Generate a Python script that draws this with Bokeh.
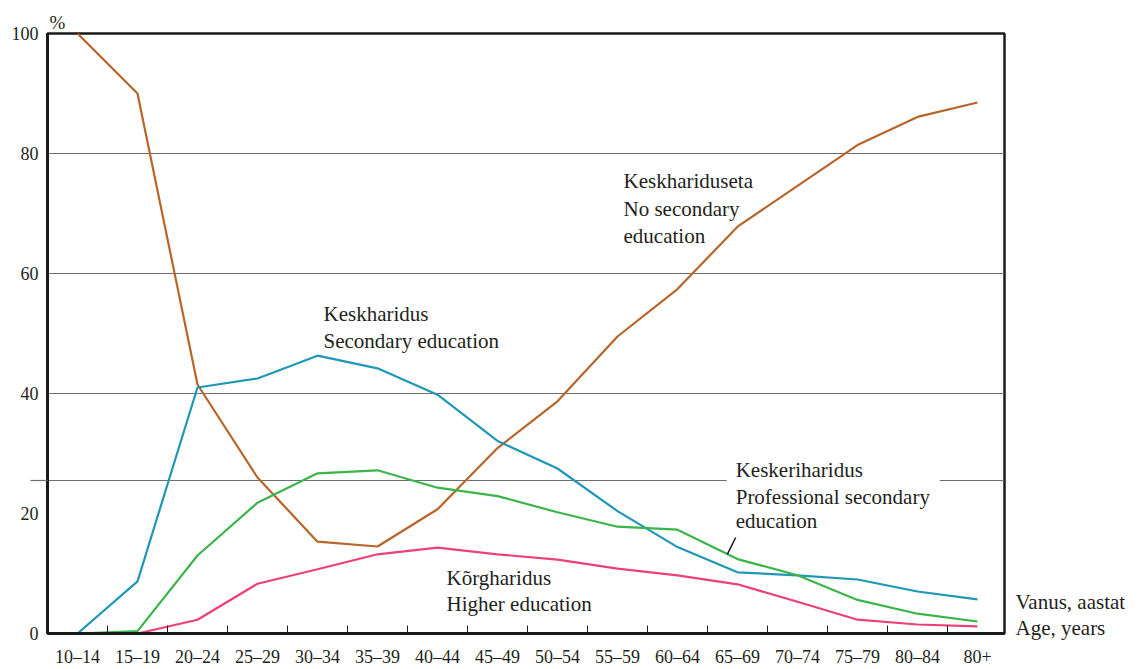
from bokeh.plotting import figure
from bokeh.models import Range1d, FixedTicker, Label, LinearAxis
from bokeh.embed import file_html
from bokeh.resources import INLINE

age_groups = ["10–14", "15–19", "20–24", "25–29", "30–34", "35–39", "40–44", "45–49",
              "50–54", "55–59", "60–64", "65–69", "70–74", "75–79", "80–84", "80+"]
no_secondary = [100, 90, 41.5, 26, 15.3, 14.5, 20.7, 30.9, 38.7, 49.5, 57.4, 67.8, 74.6, 81.4, 86.1, 88.5]
secondary = [0, 8.7, 41.0, 42.5, 46.3, 44.2, 39.8, 32.1, 27.5, 20.4, 14.4, 10.2, 9.7, 9.0, 7.0, 5.7]
professional = [0, 0.4, 13.0, 21.8, 26.7, 27.2, 24.3, 22.9, 20.2, 17.8, 17.3, 12.4, 9.7, 5.6, 3.3, 2.0]
higher = [0, 0, 2.3, 8.3, 10.7, 13.2, 14.3, 13.2, 12.3, 10.8, 9.7, 8.2, 5.3, 2.3, 1.5, 1.2]
y_ticks = [0, 20, 40, 60, 80, 100]
grid_levels = [40, 60, 80]
odd_line_level = 25.5
axis_title_lines = {5.2: "Vanus, aastat", 1.0: "Age, years"}

SERIF = "Liberation Serif"
TXT = "#231F20"
GRID = "#6D6E71"
INK = "#1a1a1a"

xs = list(range(len(age_groups)))

p = figure(width=1135, height=669, output_backend="svg", toolbar_location=None,
           title="%",
           x_range=Range1d(-0.5, 15.45), y_range=Range1d(0, 100),
           min_border_left=47, min_border_right=131, min_border_top=33, min_border_bottom=36)
p.background_fill_color = "white"
p.border_fill_color = "white"
p.outline_line_color = INK
p.outline_line_width = 2.5

p.title.align = "left"
p.title.offset = 2
p.title.standoff = 2
p.title.text_font = SERIF
p.title.text_font_size = "19px"
p.title.text_font_style = "normal"
p.title.text_color = TXT

p.xaxis.ticker = FixedTicker(ticks=xs, minor_ticks=[i + 0.5 for i in range(len(xs) - 1)])
p.xaxis.major_label_overrides = {i: lab for i, lab in enumerate(age_groups)}
p.xaxis.major_tick_line_color = None
p.xaxis.minor_tick_in = 8
p.xaxis.minor_tick_out = 0
p.xaxis.minor_tick_line_color = INK
p.xaxis.minor_tick_line_width = 1
p.xaxis.axis_line_width = 3
p.xaxis.axis_line_color = INK
p.xaxis.major_label_text_font = SERIF
p.xaxis.major_label_text_font_size = "18px"
p.xaxis.major_label_text_color = TXT
p.xaxis.major_label_standoff = 7

p.yaxis.ticker = FixedTicker(ticks=y_ticks, minor_ticks=[odd_line_level])
p.yaxis.major_tick_line_color = None
p.yaxis.minor_tick_in = 0
p.yaxis.minor_tick_out = 17
p.yaxis.minor_tick_line_color = GRID
p.yaxis.minor_tick_line_width = 1.2
p.yaxis.axis_line_width = 3
p.yaxis.axis_line_color = INK
p.yaxis.major_label_text_font = SERIF
p.yaxis.major_label_text_font_size = "18px"
p.yaxis.major_label_text_color = TXT
p.yaxis.major_label_standoff = -8

right = LinearAxis(ticker=FixedTicker(ticks=list(axis_title_lines.keys())),
                   major_label_overrides=axis_title_lines,
                   axis_line_color=None, major_tick_line_color=None, minor_tick_line_color=None,
                   major_label_standoff=5, major_label_text_font=SERIF,
                   major_label_text_font_size="21px", major_label_text_color=TXT)
p.add_layout(right, "right")

p.xgrid.grid_line_color = None
p.ygrid.ticker = FixedTicker(ticks=grid_levels)
p.ygrid.grid_line_color = GRID
p.ygrid.grid_line_width = 1.2

p.segment(x0=[-0.5, 14.37], y0=[odd_line_level] * 2, x1=[10.82, 15.45], y1=[odd_line_level] * 2,
          line_color=GRID, line_width=1.2)

p.line(xs, no_secondary, line_color="#B8652A", line_width=2.2)
p.line(xs, secondary, line_color="#1E98B4", line_width=2.2)
p.line(xs, professional, line_color="#3AB54A", line_width=2.2)
p.line(xs, higher, line_color="#EC407A", line_width=2.2)

p.segment(x0=[10.97], y0=[16.0], x1=[10.83], y1=[13.2], line_color=INK, line_width=1.5)

def lab(x, y, t, size="21px"):
    p.add_layout(Label(x=x, y=y, text=t, text_font=SERIF, text_font_size=size,
                       text_color=TXT, text_baseline="middle", text_align="left"))

lab(9.1, 75.5, "Keskhariduseta")
lab(9.1, 70.8, "No secondary")
lab(9.1, 66.2, "education")
lab(4.1, 53.3, "Keskharidus")
lab(4.1, 48.7, "Secondary education")
lab(10.97, 27.2, "Keskeriharidus")
lab(10.97, 22.7, "Professional secondary")
lab(10.97, 18.7, "education")
lab(6.15, 9.3, "Kõrgharidus")
lab(6.15, 5.0, "Higher education")

open("out.html", "w").write(file_html(p, INLINE))
